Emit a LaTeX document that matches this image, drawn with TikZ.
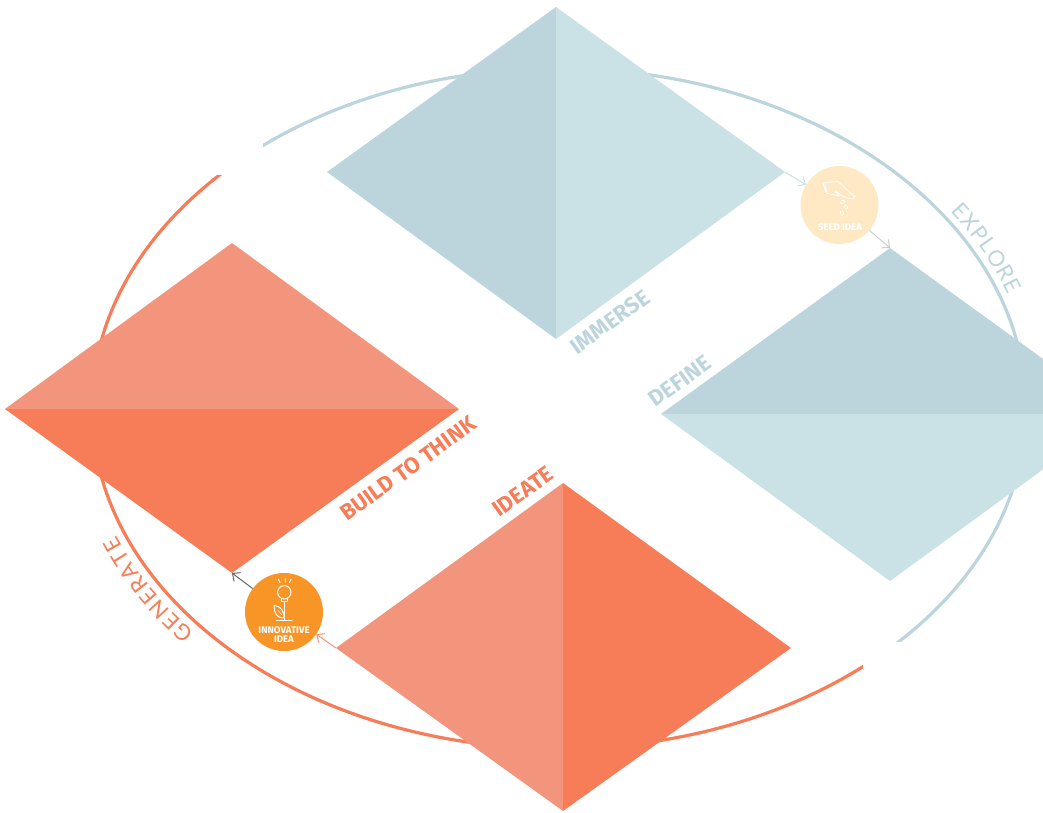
\documentclass[tikz,border=0pt]{standalone}
\usepackage{fontspec}
\usetikzlibrary{arrows.meta,decorations.text}
\setmainfont{Fira Sans}
\newfontfamily\lightfont{Lato}
\definecolor{bluedark}{HTML}{BCD5DC}
\definecolor{bluelight}{HTML}{CAE1E5}
\definecolor{coraldark}{HTML}{F67D57}
\definecolor{corallight}{HTML}{F2957C}
\definecolor{seedfill}{HTML}{FEE9C4}
\definecolor{ideafill}{HTML}{F79527}
\tikzset{
  ring/.style={line width=3.2pt,fill=none},
  stagelabel/.style={font=\fontsize{22.4}{24}\selectfont\bfseries,rotate=35.8,inner sep=0pt},
  ideacircle/.style={circle,minimum size=78pt,inner sep=0pt},
  ideatext/.style={font=\fontsize{9.6}{8.8}\selectfont\bfseries,text=white,inner sep=0pt,align=center},
  flow/.style={line width=1pt,-{Straight Barb[length=6pt,width=11pt,line width=1pt]}},
  icon/.style={draw=white,line width=1pt,line join=round,line cap=round},
}
\begin{document}
\begin{tikzpicture}[x=1pt,y=-1pt]
\useasboundingbox (0,0) rectangle (1043,813);
\clip (0,0) rectangle (1043,813);
% rings
\begin{scope}
  \clip (263,0) rectangle (1043,641);
  \draw[ring,bluedark] (559,408.5) ellipse [x radius=467pt,y radius=340pt];
\end{scope}
\begin{scope}
  \clip (0,176) rectangle (863,813);
  \draw[ring,coraldark] (559,408.5) ellipse [x radius=467pt,y radius=340pt];
\end{scope}
% diamond corners
\coordinate (imT) at (556,7);   \coordinate (imL) at (327,172); \coordinate (imB) at (556,339); \coordinate (imR) at (785,172);
\coordinate (deT) at (890,248); \coordinate (deL) at (661,414); \coordinate (deB) at (890,581); \coordinate (deR) at (1119,414);
\coordinate (buT) at (232,243); \coordinate (buL) at (5,409);   \coordinate (buB) at (232,573); \coordinate (buR) at (459,409);
\coordinate (idT) at (563,483); \coordinate (idL) at (336,648); \coordinate (idB) at (563,811); \coordinate (idR) at (791,648);
\fill[bluedark] (imT)--(imL)--(imB)--cycle;
\fill[bluelight] (imT)--(imR)--(imB)--cycle;
\fill[bluedark] (deL)--(deT)--(deR)--cycle;
\fill[bluelight] (deL)--(deB)--(deR)--cycle;
\fill[corallight] (buL)--(buT)--(buR)--cycle;
\fill[coraldark] (buL)--(buB)--(buR)--cycle;
\fill[corallight] (idT)--(idL)--(idB)--cycle;
\fill[coraldark] (idT)--(idR)--(idB)--cycle;
% idea circles
\node[ideacircle,fill=seedfill] (seed) at (839.5,205) {};
\node[ideacircle,fill=ideafill] (inno) at (284,612) {};
\node[ideatext] (seedtext) at (840,227) {SEED IDEA};
\node[ideatext] (innotext) at (284,634.5) {INNOVATIVE\\IDEA};
% connectors
\draw[flow,bluelight] (imR) -- (seed);
\draw[flow,black!20] (seed) -- (deT);
\draw[flow,corallight] (idL) -- (inno);
\draw[flow,black!60] (inno) -- (buB);
% stage labels
\node[stagelabel,text=bluedark] (immerse) at (610,322) {IMMERSE};
\node[stagelabel,text=bluedark] (define) at (680,381) {DEFINE};
\node[stagelabel,text=coraldark] (build) at (408,468.5) {BUILD TO THINK};
\node[stagelabel,text=coraldark] (ideate) at (523,491.5) {IDEATE};
% curved labels
\path[decorate,decoration={text along path,text align=fit to path,
  text={|\lightfont\fontsize{22}{24}\selectfont\color{bluedark}|EXPLORE}}]
  (950.5,211.5) arc [start angle=34.5,end angle=19,x radius=475pt,y radius=348pt];
\path[decorate,decoration={text along path,text align=fit to path,
  text={|\lightfont\fontsize{22}{24}\selectfont\color{coraldark}|GENERATE}}]
  (194.4,632.2) arc [start angle=220,end angle=201.5,x radius=476pt,y radius=349pt];
% seed icon
\draw[icon,line width=.8pt] (823,183) -- (838,181.5) -- (855,197) -- (853,199) -- (843,196.5) -- (835,191) -- (839,196) -- (826,193) -- cycle;
\draw[icon,line width=.8pt] (824.5,184) -- (827,192);
\draw[icon,line width=.7pt,rotate around={30:(842.5,202)}] (842.5,202) ellipse [x radius=2.2pt,y radius=1.4pt];
\draw[icon,line width=.7pt,rotate around={120:(846,207)}] (846,207) ellipse [x radius=2.2pt,y radius=1.4pt];
\draw[icon,line width=.7pt,rotate around={120:(842,213)}] (842,213) ellipse [x radius=2.2pt,y radius=1.4pt];
% bulb icon
\draw[icon] (284.3,592.3) circle [radius=6.7pt];
\draw[icon] (281,599) -- (281,601.5) -- (287.5,601.5) -- (287.5,599);
\draw[icon] (284.3,601.5) -- (284.3,620);
\draw[icon] (276,620) -- (292,620);
\draw[icon] (280,582.5) -- (278.5,579.5);
\draw[icon] (285,582) -- (285,578.5);
\draw[icon] (289.5,582.5) -- (291,579.5);
\draw[icon] (284,618) .. controls (276,618) and (274,612) .. (274,605.5) .. controls (280,606) and (284,610) .. (284,618);
\draw[icon,line width=.6pt] (278,610.5) -- (282,615);
\end{tikzpicture}
\end{document}
